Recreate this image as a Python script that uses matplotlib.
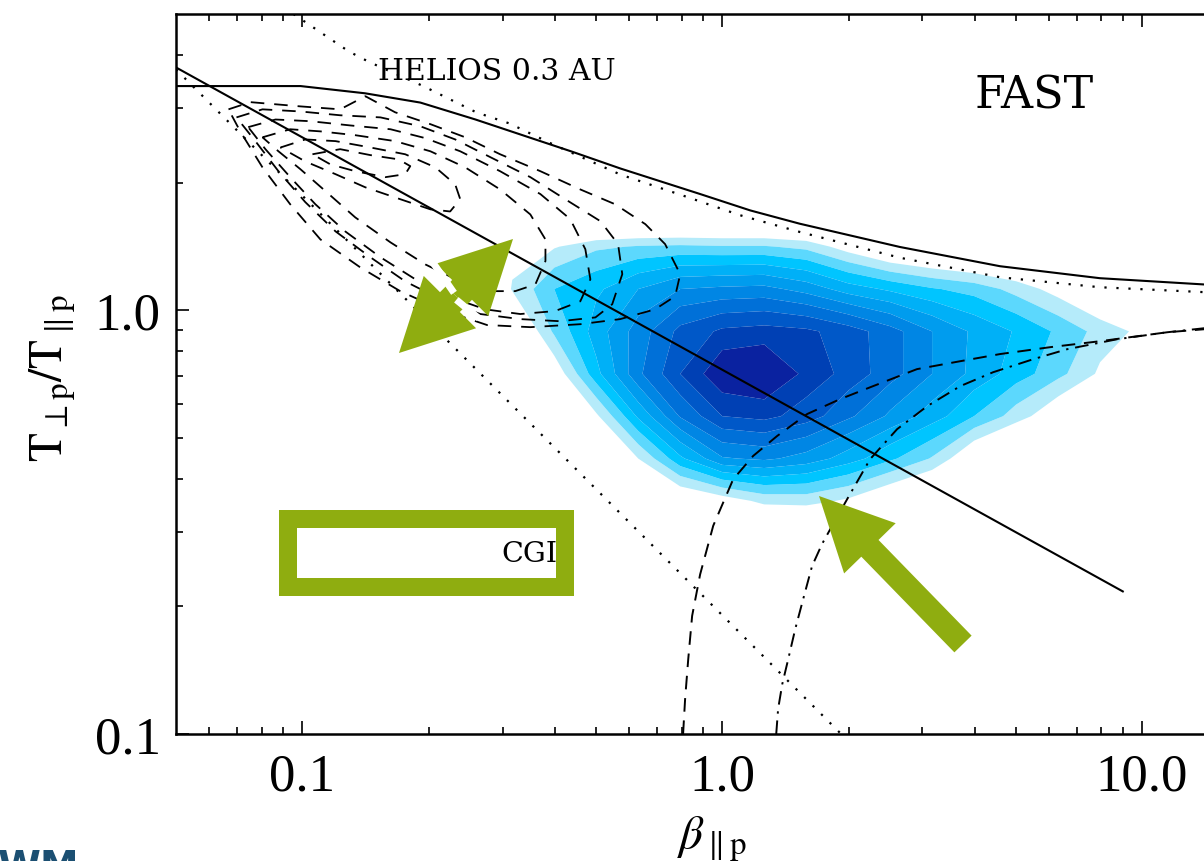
import numpy as np
import matplotlib
matplotlib.use('Agg')
import matplotlib.pyplot as plt
from matplotlib import patches, transforms
from matplotlib.ticker import FixedLocator, FixedFormatter, NullFormatter

plt.rcParams['font.family'] = ['Liberation Serif', 'DejaVu Serif']
plt.rcParams['mathtext.fontset'] = 'stix'

# ---------------- data ----------------
# straight solid line (fit)
fit_beta = [0.05, 9.0]
fit_t = [3.74, 0.217]

# solid upper curve
upper_beta = [0.05, 0.099, 0.141, 0.191, 0.258, 0.330, 0.437, 0.572, 0.886, 1.166, 1.53, 2.65, 4.59, 7.94, 14.1]
upper_t = [3.38, 3.38, 3.25, 3.09, 2.82, 2.60, 2.37, 2.16, 1.88, 1.72, 1.60, 1.41, 1.27, 1.19, 1.15]

# dotted upper curve
dotup_beta = [0.0952, 0.129, 0.1444, 0.194, 0.2596, 0.311, 0.396, 0.572, 0.825, 1.104, 1.53, 2.65, 4.59, 7.94, 14.1]
dotup_t = [5.0, 4.08, 3.85, 3.38, 2.93, 2.76, 2.46, 2.09, 1.85, 1.675, 1.53, 1.33, 1.196, 1.133, 1.103]

# dotted lower line
dotlow_beta = [0.05, 1.92]
dotlow_t = [3.70, 0.10]

# dashed right curve
dashr_beta = [0.807, 0.816, 0.830, 0.848, 0.886, 0.952, 1.062, 1.185, 1.352, 1.594, 1.91, 2.288, 2.91, 3.69, 4.59, 6.04, 7.94, 11.47, 14.1]
dashr_t = [0.100, 0.121, 0.150, 0.190, 0.238, 0.310, 0.399, 0.453, 0.505, 0.569, 0.617, 0.662, 0.726, 0.758, 0.788, 0.818, 0.845, 0.887, 0.902]

# dash-dot right curve
dd_beta = [1.345, 1.359, 1.39, 1.436, 1.493, 1.559, 1.637, 1.73, 1.808, 1.984, 2.25, 2.61, 3.08, 3.69, 4.42, 5.5, 6.63, 8.72, 11.47, 14.1]
dd_t = [0.100, 0.1146, 0.131, 0.150, 0.177, 0.208, 0.249, 0.281, 0.304, 0.358, 0.445, 0.524, 0.594, 0.662, 0.714, 0.766, 0.809, 0.854, 0.887, 0.907]

# HELIOS 0.3 AU dashed contours (log10 beta, log10 T-ratio)
helios_c6_logb = [-1.176, -1.124, -1.005, -0.910, -0.850, -0.779, -0.695, -0.612, -0.529, -0.433, -0.338, -0.255, -0.183, -0.136, -0.100, -0.112, -0.160, -0.243, -0.338, -0.457, -0.560, -0.671, -0.767, -0.862, -0.957, -1.029, -1.095, -1.148, -1.176]
helios_c6_logt = [0.474, 0.491, 0.481, 0.474, 0.505, 0.467, 0.439, 0.408, 0.368, 0.328, 0.285, 0.250, 0.203, 0.156, 0.085, 0.033, 0.002, -0.021, -0.033, -0.040, -0.035, 0.002, 0.045, 0.101, 0.167, 0.250, 0.337, 0.422, 0.474]
helios_c5_logb = [-1.157, -1.095, -1.005, -0.910, -0.814, -0.719, -0.636, -0.552, -0.457, -0.374, -0.290, -0.248, -0.238, -0.262, -0.302, -0.386, -0.481, -0.576, -0.671, -0.755, -0.838, -0.921, -0.993, -1.057, -1.112, -1.157]
helios_c5_logt = [0.455, 0.474, 0.469, 0.460, 0.455, 0.434, 0.403, 0.361, 0.314, 0.262, 0.210, 0.156, 0.085, 0.014, -0.017, -0.026, -0.021, -0.009, 0.026, 0.068, 0.125, 0.186, 0.255, 0.328, 0.399, 0.455]
helios_c4_logb = [-1.129, -1.064, -0.981, -0.886, -0.790, -0.707, -0.624, -0.529, -0.433, -0.362, -0.326, -0.314, -0.338, -0.398, -0.481, -0.564, -0.648, -0.731, -0.814, -0.898, -0.969, -1.029, -1.088, -1.129]
helios_c4_logt = [0.432, 0.450, 0.446, 0.436, 0.427, 0.406, 0.375, 0.328, 0.274, 0.215, 0.144, 0.073, 0.021, -0.002, -0.009, 0.002, 0.031, 0.073, 0.125, 0.186, 0.250, 0.314, 0.380, 0.432]
helios_c3_logb = [-1.095, -1.029, -0.957, -0.874, -0.779, -0.695, -0.612, -0.529, -0.457, -0.421, -0.421, -0.445, -0.493, -0.552, -0.624, -0.707, -0.790, -0.874, -0.945, -1.005, -1.057, -1.095]
helios_c3_logt = [0.408, 0.427, 0.422, 0.413, 0.399, 0.375, 0.337, 0.285, 0.226, 0.167, 0.116, 0.061, 0.045, 0.045, 0.068, 0.108, 0.160, 0.219, 0.281, 0.333, 0.375, 0.408]
helios_c2_logb = [-1.052, -0.993, -0.921, -0.838, -0.755, -0.683, -0.636, -0.624, -0.648, -0.695, -0.767, -0.850, -0.921, -0.993, -1.052]
helios_c2_logt = [0.384, 0.403, 0.399, 0.384, 0.368, 0.337, 0.297, 0.262, 0.233, 0.238, 0.262, 0.290, 0.321, 0.351, 0.384]
helios_c1_logb = [-0.976, -0.910, -0.838, -0.771, -0.743, -0.755, -0.802, -0.874, -0.933, -0.976]
helios_c1_logt = [0.368, 0.380, 0.366, 0.356, 0.340, 0.321, 0.314, 0.328, 0.344, 0.368]

# FAST wind density (filled contours), coarse histogram in log10 space
fast_logb_nodes = [-0.6, -0.5, -0.4, -0.3, -0.2, -0.1, 0.0, 0.1, 0.2, 0.3, 0.4, 0.5, 0.6, 0.7, 0.8, 0.9, 1.0, 1.1]
fast_logt_nodes = [0.25, 0.15, 0.05, -0.05, -0.15, -0.25, -0.35, -0.45, -0.55]
fast_density = [
    [-4, -4, -4, -4, -4, -4, -4, -4, -4, -4, -4, -4, -4, -4, -4, -4, -4, -4],
    [-1.4, 0.6, 0.9, 1.8, 2.1, 2.2, 2.1, 2.1, 1.7, 0.4, -0.9, -1.5, -2, -2, -2, -2, -2, -2],
    [-1.7, 1.1, 3.0, 3.8, 5.0, 6.0, 6.2, 6.3, 5.6, 4.5, 3.8, 3.1, 2.6, 1.6, 0.5, -0.7, -1.6, -2],
    [-2, -0.7, 2.2, 4.5, 6.5, 8.3, 9.2, 9.4, 9.2, 8.5, 7.4, 6.0, 4.8, 3.9, 2.8, 1.6, 0.7, -2],
    [-2, -1.5, 0.2, 3.7, 6.8, 9.0, 10.9, 11.2, 9.7, 8.6, 7.4, 6.0, 4.7, 3.5, 2.3, 0.8, -0.3, -2],
    [-2, -2, -2, 0.8, 4.2, 7.1, 9.0, 9.3, 8.5, 7.2, 5.8, 4.5, 3.0, 1.5, 0.0, -1.5, -2, -2],
    [-2, -2, -2, -1.4, 1.0, 3.8, 5.9, 6.2, 5.6, 4.5, 3.2, 1.9, -0.3, -1.5, -2, -2, -2, -2],
    [-2, -2, -2, -2, -2, -0.3, 0.4, 1.3, 1.4, 0.8, -0.3, -1.2, -2, -2, -2, -2, -2, -2],
    [-2, -2, -2, -2, -2, -2, -2, -2, -2, -2, -2, -2, -2, -2, -2, -2, -2, -2],
]
fast_levels = [1, 2, 3, 4, 5, 6, 7, 8, 9, 10, 20]
fast_colors = ['#b5ebfa', '#5cd8fd', '#00c5ff', '#00b0f7', '#009cee',
               '#0086e4', '#0070d8', '#0058c8', '#0040b4', '#0a22a0']

x_major = [0.1, 1.0, 10.0]
x_major_labels = ['0.1', '1.0', '10.0']
x_minor = [0.06, 0.07, 0.08, 0.09, 0.2, 0.3, 0.4, 0.5, 0.6, 0.7, 0.8, 0.9,
           2, 3, 4, 5, 6, 7, 8, 9]
y_major = [0.1, 1.0]
y_major_labels = ['0.1', '1.0']
y_minor = [0.2, 0.3, 0.4, 0.5, 0.6, 0.7, 0.8, 0.9, 2, 3, 4]

# ---------------- figure ----------------
W, H = 1204, 862
fig = plt.figure(figsize=(W / 100, H / 100), dpi=100)
ax = fig.add_axes([176 / W, 127 / H, 1028 / W, 720 / H])
ax.set_xscale('log')
ax.set_yscale('log')

# filled density contours
BX, BY = np.meshgrid(10 ** np.array(fast_logb_nodes), 10 ** np.array(fast_logt_nodes))
ax.contourf(BX, BY, np.array(fast_density), levels=fast_levels, colors=fast_colors,
            zorder=1, antialiased=True)

lw_solid = 1.5
ax.plot(fit_beta, fit_t, color='black', lw=lw_solid, zorder=4)
ax.plot(upper_beta, upper_t, color='black', lw=lw_solid, zorder=4)
dot_style = (0, (1, 4.4))
ax.plot(dotup_beta, dotup_t, color='black', lw=1.6, ls=dot_style, zorder=4)
ax.plot(dotlow_beta, dotlow_t, color='black', lw=1.6, ls=dot_style, zorder=4)
ax.plot(dashr_beta, dashr_t, color='black', lw=1.4, ls=(0, (7, 4.5)), zorder=4)
ax.plot(dd_beta, dd_t, color='black', lw=1.4, ls=(0, (7, 3.5, 1.2, 3.5)), zorder=4)

helios = [(helios_c1_logb, helios_c1_logt), (helios_c2_logb, helios_c2_logt),
          (helios_c3_logb, helios_c3_logt), (helios_c4_logb, helios_c4_logt),
          (helios_c5_logb, helios_c5_logt), (helios_c6_logb, helios_c6_logt)]
for lb, lt in helios:
    ax.plot(10 ** np.array(lb), 10 ** np.array(lt), color='black', lw=1.3,
            ls=(0, (7.5, 5.5)), zorder=3)

ax.set_xlim(0.05, 14.05)
ax.set_ylim(0.1, 5.0)

ax.xaxis.set_major_locator(FixedLocator(x_major))
ax.xaxis.set_major_formatter(FixedFormatter(x_major_labels))
ax.xaxis.set_minor_locator(FixedLocator(x_minor))
ax.xaxis.set_minor_formatter(NullFormatter())
ax.yaxis.set_major_locator(FixedLocator(y_major))
ax.yaxis.set_major_formatter(FixedFormatter(y_major_labels))
ax.yaxis.set_minor_locator(FixedLocator(y_minor))
ax.yaxis.set_minor_formatter(NullFormatter())

ax.tick_params(which='both', direction='in', top=True, right=False, width=1.2, colors='black')
ax.tick_params(which='major', length=9.5, labelsize=38)
ax.tick_params(which='minor', length=5)
ax.tick_params(axis='x', which='major', pad=13)
ax.tick_params(axis='y', which='major', pad=11)
for s in ['left', 'bottom', 'top']:
    ax.spines[s].set_linewidth(1.8)
ax.spines['right'].set_visible(False)

# axis labels
pxT = transforms.Affine2D().scale(1 / W, -1 / H).translate(0, 1) + fig.transFigure
fig.text(53, 378, r'$\mathrm{T}_{\perp\mathrm{p}}/\mathrm{T}_{\parallel\mathrm{p}}$', transform=pxT,
         rotation=90, ha='center', va='center', fontsize=34)
fig.text(712, 849, r'$\beta_{\parallel\mathrm{p}}$', transform=pxT,
         ha='center', va='baseline', fontsize=34)

# annotations
fig.text(497, 72, 'HELIOS 0.3 AU', transform=pxT, ha='center', va='center',
         fontsize=21.5, family='DejaVu Serif', zorder=5)
fig.text(1034, 96, 'FAST', transform=pxT, ha='center', va='center',
         fontsize=32, family='DejaVu Serif', zorder=5)
fig.text(529, 555, 'CGI', transform=pxT, ha='center', va='center',
         fontsize=20.5, family='DejaVu Serif', zorder=5)

green = '#8fad10'
box = patches.Rectangle((287.5, 520), 277, 68, transform=pxT, fill=False,
                        edgecolor=green, lw=18 * 0.72, joinstyle='miter', zorder=10)
fig.add_artist(box)

arr1 = patches.FancyArrow(963, 645, -144, -148, width=24, head_width=72, head_length=73,
                          length_includes_head=True, transform=pxT, color=green, lw=0, zorder=10)
fig.add_artist(arr1)
arr2 = patches.FancyArrow(456, 297, 57, -57, width=28, head_width=74, head_length=72,
                          length_includes_head=True, transform=pxT, color=green, lw=0, zorder=10)
arr3 = patches.FancyArrow(456, 297, -57, 57, width=28, head_width=74, head_length=72,
                          length_includes_head=True, transform=pxT, color=green, lw=0, zorder=10)
fig.add_artist(arr2)
fig.add_artist(arr3)
for seg in [((436, 268), (452, 291)), ((459, 303), (476, 317))]:
    fig.add_artist(plt.Line2D([seg[0][0], seg[1][0]], [seg[0][1], seg[1][1]], transform=pxT,
                              color='white', lw=5, zorder=11))

# cropped logo fragment at the bottom left
fig.text(-2, 849, 'WM', transform=pxT, ha='left', va='top', fontsize=28,
         family='DejaVu Sans', fontweight='bold', color='#1b4f72')

fig.savefig('out.png', dpi=100)
